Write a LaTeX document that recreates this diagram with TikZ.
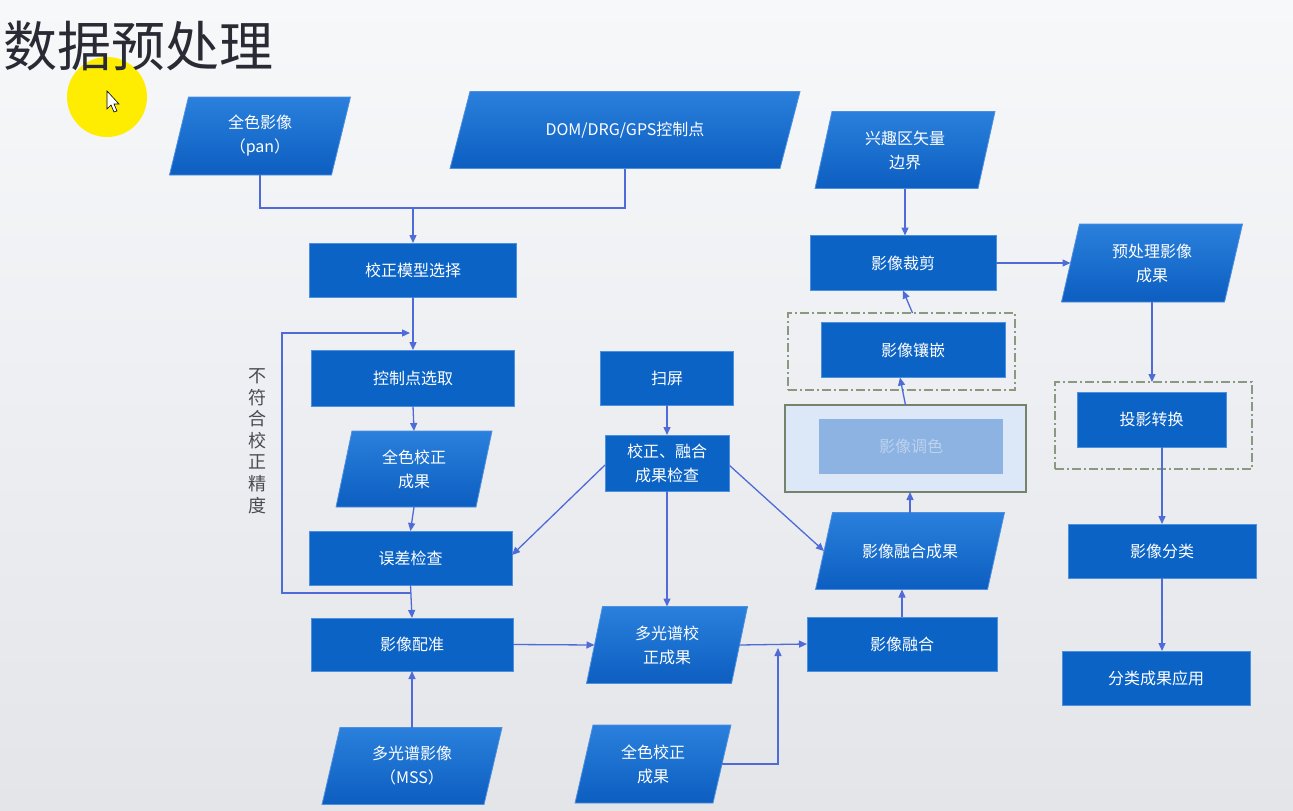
\documentclass[tikz,border=0pt]{standalone}
\usepackage{fontspec}
\usetikzlibrary{arrows.meta,calc}
\newfontfamily\cjk{Noto Sans CJK SC}
\definecolor{bgtop}{HTML}{F7F8FA}
\definecolor{bgbot}{HTML}{E3E5E9}
\definecolor{boxblue}{HTML}{0B63C5}
\definecolor{paratop}{HTML}{2A80DC}
\definecolor{parabot}{HTML}{0C5EC0}
\definecolor{edgeblue}{HTML}{4F8FE0}
\definecolor{linecol}{HTML}{4E6BD8}
\definecolor{dashcol}{HTML}{8A9A80}
\definecolor{titlecol}{HTML}{2A2A34}
\definecolor{palefill}{HTML}{DCE8F7}
\definecolor{paleinner}{HTML}{8DB3E2}
\definecolor{paletext}{HTML}{BCD2EE}
\newcommand\boxfont{\cjk\fontsize{16}{24}\selectfont}
\newcommand\para[7]{%
  \path[parastyle] ({#2-#4/2+#6/2},{#3-#5/2}) -- ({#2+#4/2+#6/2},{#3-#5/2}) -- ({#2+#4/2-#6/2},{#3+#5/2}) -- ({#2-#4/2-#6/2},{#3+#5/2}) -- cycle;
  \node[ptxt, minimum width=#4pt, minimum height=#5pt] (#1) at (#2,#3) {#7};
}
\tikzset{
  parastyle/.style={top color=paratop, bottom color=parabot, draw=edgeblue, line width=0.8pt},
  ptxt/.style={rectangle, inner sep=0pt, outer sep=0pt, text=white, font=\boxfont, align=center},
  box/.style={rectangle, fill=boxblue, draw=edgeblue, line width=0.8pt, inner sep=0pt, outer sep=0pt, text=white, font=\boxfont, align=center},
  dbox/.style={rectangle, draw=dashcol, line width=1.4pt, dash pattern=on 9pt off 3pt on 2pt off 3pt, inner sep=0pt, outer sep=0pt},
  conn/.style={draw=linecol, line width=1.3pt, -{Triangle[length=8pt,width=7pt]}},
  plain/.style={draw=linecol, line width=1.3pt},
}
\begin{document}
\begin{tikzpicture}[x=1pt,y=-1pt]
\useasboundingbox (0,0) rectangle (1293,811);
\shade[top color=bgtop, bottom color=bgbot] (0,0) rectangle (1293,811);

% title and cursor highlight
\fill[yellow!95!orange] (107,97) circle (40);
\node[anchor=west, inner sep=0pt, text=titlecol, font={\cjk\fontsize{54}{58}\selectfont}] (title) at (3,46) {数据预处理};
\draw[fill=white, draw=black, line width=0.6pt, shift={(107,91)}] (0,0) -- (0,18) -- (4,14) -- (7,21) -- (10,20) -- (7,13) -- (12,13) -- cycle;

% parallelograms (data)
\para{pan}{260}{136}{162}{78}{19}{全色影像\\（pan）}
\para{dom}{625}{130}{330}{77}{20}{DOM/DRG/GPS控制点}
\para{roi}{905}{150}{163}{77}{17}{兴趣区矢量\\边界}
\para{yuchu}{1152}{263}{163}{78}{18}{预处理影像\\成果}
\para{qs1}{414}{469}{140}{76}{16}{全色校正\\成果}
\para{rhcg}{910}{551}{172}{77}{17}{影像融合成果}
\para{dgp}{667}{645}{145}{77}{16}{多光谱校\\正成果}
\para{mss}{412}{766}{162}{77}{18}{多光谱影像\\（MSS）}
\para{qs2}{653}{764}{138}{78}{18}{全色校正\\成果}

% process boxes
\node[box, minimum width=207pt, minimum height=54pt] (xzmx) at (413,270) {校正模型选择};
\node[box, minimum width=186pt, minimum height=55pt] (cai) at (903,263) {影像裁剪};
\node[dbox, minimum width=227pt, minimum height=77pt] (xqbox) at (901.5,351.5) {};
\node[box, minimum width=184pt, minimum height=55pt] (xq) at (913,350) {影像镶嵌};
\node[box, minimum width=203pt, minimum height=56pt] (kzd) at (413,378) {控制点选取};
\node[box, minimum width=133pt, minimum height=54pt] (sp) at (667,378) {扫屏};
\node[rectangle, fill=palefill, draw=dashcol!85!black, line width=1.5pt, minimum width=241pt, minimum height=87pt, inner sep=0pt, outer sep=0pt] (tsbox) at (905.5,448.5) {};
\node[rectangle, fill=paleinner, inner sep=0pt, minimum width=184pt, minimum height=55pt, text=paletext, font=\boxfont] (ts) at (911,446.5) {影像调色};
\node[dbox, minimum width=197pt, minimum height=87pt] (tybox) at (1153.5,425.5) {};
\node[box, minimum width=149pt, minimum height=55pt] (ty) at (1151.5,419.5) {投影转换};
\node[box, minimum width=124pt, minimum height=56pt] (jc) at (667,463) {校正、融合\\成果检查};
\node[box, minimum width=203pt, minimum height=54pt] (wc) at (410.5,558) {误差检查};
\node[box, minimum width=188pt, minimum height=54pt] (fl) at (1162,551) {影像分类};
\node[box, minimum width=202pt, minimum height=53pt] (pz) at (412,644.5) {影像配准};
\node[box, minimum width=190pt, minimum height=54pt] (rh) at (902,644) {影像融合};
\node[box, minimum width=188pt, minimum height=54pt] (flyy) at (1156,678) {分类成果应用};

% side label
\node[inner sep=0pt, align=center, text=titlecol!85, font={\cjk\fontsize{18}{21.6}\selectfont}] (lbl) at (257,441) {不\\符\\合\\校\\正\\精\\度};

% connectors
\coordinate (j1) at (413,208);
\draw[conn] (pan.south) |- (j1) -- (xzmx.north);
\draw[plain] (dom.south) |- (j1);
\draw[conn] (xzmx.south) -- (kzd.north);
\draw[conn] (kzd.south) -- (qs1.north);
\draw[conn] (qs1.south) -- (wc.north);
\draw[conn] (wc.south) -- (pz.north);
\coordinate (l2) at (282,333);
\coordinate (l3) at (410,333);
\draw[conn] ($(wc.south)+(0,8)$) -| (l2) -- (l3);
\draw[conn] (mss.north) -- (pz.south);
\draw[conn] (pz.east) -- (dgp.west);
\draw[conn] (dgp.east) -- (rh.west);
\coordinate (jm) at (778,648);
\draw[conn] (qs2.east) -| (jm);
\draw[conn] (sp.south) -- (jc.north);
\draw[conn] ($(jc.west)+(0,2)$) -- ($(wc.east)+(0,-3)$);
\draw[conn] (jc.south) -- (dgp.north);
\draw[conn] ($(jc.east)+(0,2)$) -- (rhcg.west);
\draw[conn] (rh.north) -- (rh.north |- rhcg.south);
\draw[conn] (rhcg.north) -- (rhcg.north |- tsbox.south);
\draw[conn] (tsbox.north) -- ($(xq.south)+(-13,0)$);
\draw[conn] ($(xqbox.north)+(11,0)$) -- (cai.south);
\draw[conn] (roi.south) -- (roi.south |- cai.north);
\draw[conn] (cai.east) -- (yuchu.west);
\draw[conn] (yuchu.south) -- (tybox.north -| yuchu.south);
\draw[conn] (ty.south -| fl.north) -- (fl.north);
\draw[conn] (fl.south) -- (fl.south |- flyy.north);
\end{tikzpicture}
\end{document}
